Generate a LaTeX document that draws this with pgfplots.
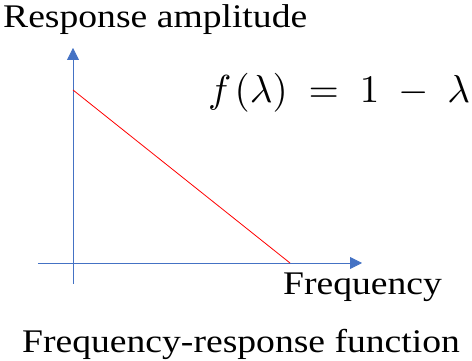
\documentclass[border=0pt]{standalone}
\usepackage{fontspec}
\setmainfont{Liberation Serif}[FakeStretch=1.14]
\usepackage{graphicx}
\usepackage{pgfplots}
\pgfplotsset{compat=1.18}
\usetikzlibrary{arrows.meta}
\definecolor{axblue}{HTML}{4472C4}
\begin{document}
\begin{tikzpicture}
\begin{axis}[
  scale only axis, width=472pt, height=361pt,
  xmin=-0.33641, xmax=1.83871, ymin=-0.56647, ymax=1.52023,
  hide axis, clip=false,
]
\path (rel axis cs:0,0) rectangle (rel axis cs:1,1);
\draw[axblue, line width=0.8pt, -{Triangle[width=12pt,length=12pt]}] (axis cs:-0.1613,0) -- (axis cs:1.3318,0);
\draw[axblue, line width=0.8pt, -{Triangle[width=12pt,length=12pt]}] (axis cs:0,-0.1214) -- (axis cs:0,1.2428);
\addplot[red, line width=0.8pt] coordinates {(0,1) (1,0)};
\node[anchor=base west, inner sep=0pt, font=\fontsize{33}{36}\selectfont] at (axis cs:-0.3226,1.3584) {Response amplitude};
\node[anchor=base west, inner sep=0pt, font=\fontsize{33}{36}\selectfont] at (axis cs:0.9677,-0.18497) {Frequency};
\node[anchor=base west, inner sep=0pt, font=\fontsize{33}{36}\selectfont] at (axis cs:-0.2350,-0.5202) {Frequency-response function};
\node[anchor=base west, inner sep=0pt] at (axis cs:0.6221,0.9249) {\scalebox{3.9}{$f\hspace{0.8pt}(\lambda)\hspace{2.6pt}=\hspace{2.6pt}1\hspace{2.6pt}-\hspace{2.6pt}\lambda$}};
\end{axis}
\end{tikzpicture}
\end{document}
